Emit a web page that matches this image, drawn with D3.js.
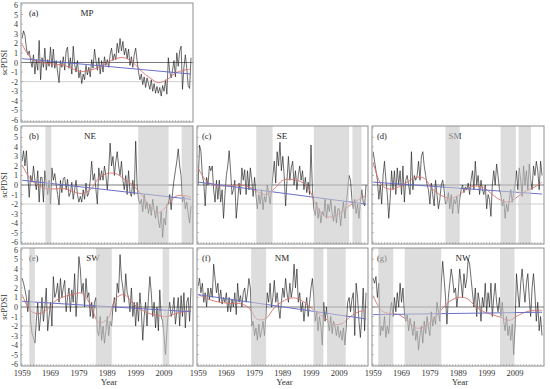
<!DOCTYPE html>
<html>
<head>
<meta charset="utf-8">
<script src="https://cdn.jsdelivr.net/npm/d3@7"></script>
<style>
body { margin: 0; background: #fff; }
svg { display: block; font-family: "Liberation Serif", "Times New Roman", serif; }
</style>
</head>
<body>
<svg id="chart" width="550" height="389"></svg>
<script>
// half-yearly scPDSI readings, 1959.0 .. 2018.5
var seriesMP = [2.5, 3.3, 2.8, 1.5, 0.8, 1.2, 0.2, -0.5, 0.8, -1.2,
	0.3, -0.8, 2.3, -1.8, 0.5, -0.5, 1.5, -0.8, 0.3, -0.4,
	1.6, -0.5, 1.4, -0.6, 0.2, -1.0, -2.1, 0.2, -0.5, 0.6,
	-0.8, 1.2, 1.6, -0.6, 0.5, -1.2, 1.7, -0.2, -1.0, 0.2,
	-1.6, -0.8, -2.2, -1.2, -1.8, -0.3, -1.3, -0.5, -1.5, 0.3,
	-0.6, 1.4, 0.2, -0.8, 0.5, -1.2, 0.2, -1.0, 0.6, -0.3,
	0.3, -0.5, 0.8, 1.5, 0.2, 0.9, 0.3, 2.0, 1.0, 2.5,
	1.2, 2.2, 0.8, 1.5, 0.4, 1.4, -0.3, 0.6, -0.5, 0.8,
	1.5, 0.2, -1.0, -1.8, -1.2, -2.3, -1.5, -2.6, -1.6, -2.2,
	-2.8, -1.8, -3.0, -2.2, -3.2, -2.5, -3.2, -2.6, -3.5, -2.4,
	-3.0, -1.8, -3.3, 0.5, -1.0, -1.6, -0.8, 0.2, -1.5, 1.0,
	-0.4, 1.2, 1.7, -2.8, -0.5, 0.8, -0.6, -2.4, -2.7, 0.5];
var seriesNE = [2.5, 3.6, 2.0, 3.6, 1.0, -1.3, 1.0, 0.3, 2.0, 0.5,
	-0.5, 1.5, -1.8, 0.8, 0.8, -1.8, 1.5, 0.2, -1.0, 0.5,
	-2.0, 1.8, 0.5, 1.2, 0.0, -1.0, -2.1, 0.5, -0.8, 0.7,
	0.8, -0.5, 0.6, -1.2, -0.8, 0.3, -1.5, -0.5, 0.5, -1.0,
	-1.8, -1.2, -1.8, -0.5, -1.5, 0.2, -1.2, -0.8, 0.5, 2.5,
	0.5, 1.2, -0.5, -2.0, 1.8, 0.5, 1.5, 0.5, 2.0, 1.0,
	-0.5, 1.5, 4.4, 2.0, 3.0, 1.0, 2.5, 3.5, 2.0, 1.0,
	2.5, 0.5, -0.5, 1.0, -1.0, 1.5, -0.8, -1.2, 0.5, -1.0,
	4.6, 0.0, -1.5, -2.0, -1.5, -2.8, -1.0, -2.5, -1.8, -3.0,
	-2.0, -3.2, -1.5, -2.6, -3.5, -2.2, -3.8, -4.5, -2.8, -5.5,
	-3.5, -4.2, -2.0, -2.0, -1.0, -2.6, -0.8, 0.5, 1.5, 2.5,
	3.8, 2.0, 1.0, -1.8, -1.2, -2.5, -1.8, -3.0, -4.0, -2.2];
var seriesSE = [0.0, 4.2, 3.5, 1.0, 0.2, -2.2, 0.8, 0.0, 2.0, 1.5,
	2.0, -0.5, -1.8, 0.5, -1.5, 0.5, -1.8, -0.5, -3.5, -1.0,
	1.0, 2.0, 3.6, 1.5, -1.0, -0.5, 0.5, -3.5, -1.8, 0.2,
	-1.0, 1.8, 0.5, 1.6, -1.0, 1.5, -0.5, 1.8, 0.5, -1.2,
	0.8, -1.0, -2.5, -1.0, -2.0, -0.5, -2.6, -1.2, -1.8, 0.0,
	-0.8, -2.0, -0.5, 1.0, 2.5, 0.2, 3.5, 2.0, 4.5, 1.5,
	3.0, 1.0, -2.2, 0.5, 3.0, 0.5, 1.8, 2.5, 0.0, 1.5,
	-0.5, 1.0, 2.0, 0.5, 1.5, -0.5, 0.8, -0.8, 0.3, -1.0,
	4.2, -0.5, -2.5, -3.2, -1.8, -3.5, -2.5, -4.0, -2.8, -3.2,
	-1.5, -3.5, -2.0, -2.8, -1.5, -3.0, -3.8, -2.2, -4.0, -2.5,
	-2.5, -4.3, -2.8, -1.8, -3.5, -2.0, -0.5, 1.0, 0.5, -1.5,
	-2.5, -1.5, -3.0, -2.0, -3.5, -1.8, -0.5, -1.8, -2.2, 0.0];
var seriesSM = [3.5, 2.5, 1.5, 0.5, -1.5, 0.0, -2.0, 1.0, 2.5, 0.5,
	-1.0, -3.5, -1.5, 1.5, -0.5, 1.5, -1.0, 1.8, 0.0, 1.5,
	-1.0, 2.0, -1.8, 0.5, 1.0, 0.0, -1.0, 3.5, -0.5, 1.0,
	0.5, 1.0, 2.5, 0.5, 3.0, 3.5, 2.0, 1.0, 0.0, -0.5,
	-2.0, 0.2, -1.0, -2.2, 0.5, -1.0, -2.5, -1.5, 0.0, 0.5,
	-0.5, -2.0, -1.8, -0.8, -2.5, -1.0, -3.0, -1.5, -2.0, -1.2,
	-3.0, -1.5, -0.5, 0.0, -0.8, -0.2, -0.5, 0.2, -1.0, 0.5,
	1.5, -0.5, 2.5, 0.0, 1.0, -1.0, 0.5, -0.5, -1.0, 0.0,
	-2.5, -1.0, -1.5, -3.3, 0.0, 1.5, 0.0, 2.2, 1.0, -0.5,
	-1.0, -2.2, -1.5, -3.5, -2.0, -2.8, -1.5, -0.5, -1.8, -0.8,
	0.0, 1.5, -0.5, 1.8, 0.5, -1.2, 2.0, 0.0, 1.5, -0.5,
	2.2, 0.5, -0.5, 2.0, 1.0, 2.5, 1.5, -0.5, 2.5, 1.0];
var seriesSW = [3.0, 2.5, 1.8, 1.0, -0.5, 1.8, -1.5, -2.8, -3.2, -3.8,
	-1.5, 0.5, -2.5, -1.0, 1.0, -1.5, 0.0, 2.0, -2.5, -1.0,
	0.5, -2.0, 3.2, 1.0, 1.5, 2.5, 0.5, 3.0, 1.0, 2.0,
	2.8, -0.5, 1.0, 2.0, -0.5, 1.8, 0.5, 3.5, -1.0, 1.5,
	5.3, 4.0, 1.5, 2.5, 0.0, 3.0, 1.0, 1.5, -1.0, 0.5,
	-1.2, 0.5, 1.0, -2.5, -3.0, -1.0, -3.5, -2.0, -3.8, -2.5,
	-1.0, -3.0, -1.5, -2.0, 0.0, 1.0, -0.5, 2.5, 1.5, 5.5,
	3.0, 2.0, 0.5, 3.5, 1.5, 1.0, -0.5, 2.0, -1.0, 0.5,
	-2.0, 0.5, -1.5, 1.5, -0.5, -3.5, -1.0, 0.5, -2.0, 1.0,
	3.2, 1.5, -1.0, 0.5, -2.2, 0.0, -2.5, 1.8, -1.0, -1.5,
	-3.0, -5.0, -2.5, -0.5, 0.5, -1.0, -0.5, 1.0, -1.8, -0.5,
	1.0, -2.0, 1.2, -1.0, 1.5, -2.2, 0.5, 1.0, -1.5, 2.0];
var seriesNM = [2.2, 3.0, 1.5, 2.5, 0.5, 1.5, 0.0, 2.0, 0.8, 2.0,
	1.0, 4.5, 3.0, 1.5, 2.5, 0.5, 1.8, 0.3, 1.0, 0.5,
	1.5, -0.5, 1.0, -0.5, 0.8, 0.0, 1.5, -0.8, 2.5, 0.5,
	1.2, 0.0, 1.5, 2.0, 0.5, 1.5, 3.0, 2.0, -2.0, -1.5,
	-3.0, -2.2, -3.5, -1.8, -3.2, -2.5, -1.5, -3.0, -1.0, 1.5,
	0.5, 2.5, 0.0, 1.0, 2.8, 0.5, 1.5, 0.0, -1.2, 0.5,
	2.0, 1.0, 3.0, 1.5, 0.5, 2.5, 1.0, 2.0, 4.5, 2.0,
	4.0, 0.5, 1.5, -0.5, 0.5, -1.5, 0.0, 1.0, -1.0, 0.5,
	2.0, 3.0, 1.0, -1.5, -0.5, -2.5, -1.0, -2.0, -4.0, 0.5,
	-1.5, 0.0, -1.5, -2.5, -1.0, -2.8, -1.5, -2.0, -3.0, -2.0,
	-3.2, -2.5, -3.5, -2.2, -4.0, -2.0, 0.5, 1.0, -0.5, 0.8,
	1.5, -3.0, 2.5, 1.0, -1.5, -3.2, -1.0, 2.0, -2.5, 1.5];
var seriesNW = [3.0, 2.5, 3.2, 1.0, 2.5, -3.0, -2.0, -2.5, -1.0, -3.2,
	-2.0, -2.8, -0.5, 0.5, -1.0, 1.0, -0.5, 1.5, 0.0, 2.5,
	0.5, 2.0, -0.5, -1.5, -0.8, -2.5, -1.2, -2.0, -3.0, -1.5,
	-3.5, -2.5, -4.5, -3.0, -2.0, -3.8, -1.5, -2.8, -1.0, -2.2,
	-3.0, -0.5, -2.0, -1.0, -1.8, 0.5, -0.5, -1.5, 2.5, 4.8,
	3.0, 1.0, -1.8, 1.0, 2.5, 4.0, 3.0, 1.5, 2.0, 0.0,
	1.5, 4.0, 2.5, 1.0, 3.5, 2.0, 3.0, 5.0, 4.5, 3.0,
	1.5, 0.0, 2.0, -1.0, 1.5, 0.5, -1.5, 1.0, 0.0, 2.5,
	-0.5, 1.5, 0.0, 2.5, -1.0, 1.0, 2.5, 0.5, -0.5, 1.0,
	-1.0, 0.5, -1.5, -2.5, -1.0, -3.0, -2.0, -3.5, -1.8, -5.0,
	-2.0, 3.5, 1.5, 0.0, 2.5, 4.0, 2.0, 0.5, 2.5, 3.5,
	1.0, -1.0, 2.0, 3.5, 1.5, -1.5, 0.5, -2.5, -1.0, -3.0];

// smoothed curves, read every 3 years
var smoothYears = [1959, 1962, 1965, 1968, 1971, 1974, 1977, 1980, 1983, 1986, 1989,
	1992, 1995, 1998, 2001, 2004, 2007, 2010, 2013, 2016, 2018.5];
var smoothMP = [1.9, 0.5, 0.1, -0.1, -0.2, -0.3, -0.7, -0.95, -0.8, -0.5, 0.0,
	0.4, 0.5, 0.0, -0.9, -1.6, -2.1, -1.8, -1.1, -0.8, -0.7];
var smoothNE = [2.1, 0.6, -0.1, -0.4, -0.4, -0.4, -0.7, -0.9, -0.5, 0.7, 1.2,
	1.2, 0.6, 0.0, -1.0, -2.2, -2.9, -2.2, -1.2, -1.1, -1.3];
var smoothSE = [1.8, 0.4, 0.0, -0.1, -0.1, 0.0, -0.2, -0.7, -1.0, -0.4, 0.5,
	0.6, 0.4, -0.3, -2.2, -3.3, -3.3, -2.8, -2.1, -1.5, -1.1];
var smoothSM = [2.4, 0.0, -0.45, -0.2, 0.3, 0.8, 0.7, -0.45, -1.1, -1.4, -1.1,
	-0.4, -0.1, -0.3, -1.0, -1.6, -1.8, -1.2, -0.6, -0.2, 0.3];
var smoothSW = [1.3, -0.4, -0.7, -0.2, 0.7, 1.1, 1.35, 1.45, 0.3, -1.6, -1.3,
	0.9, 1.3, 0.4, -0.3, -0.7, -0.9, -1.0, -0.7, -0.5, -0.35];
var smoothNM = [1.3, 0.9, 0.6, 0.45, 0.35, 0.35, -0.1, -1.3, -1.2, -0.1, 0.6,
	0.95, 0.8, 0.15, -0.55, -1.2, -1.8, -1.75, -1.0, -0.5, -0.35];
var smoothNW = [1.2, -0.4, -0.7, -0.8, -1.4, -2.2, -2.1, -1.4, -0.3, 0.6, 1.0,
	0.9, 0.1, -0.5, -0.8, -1.1, -1.4, -0.9, -0.5, -0.35, -0.35];

// linear trend, value at start and end
var trendMP = [0.4, -1.2];
var trendNE = [0.5, -1.5];
var trendSE = [0.3, -2.0];
var trendSM = [0.3, -0.95];
var trendSW = [0.6, -0.5];
var trendNM = [1.3, -1.25];
var trendNW = [-0.8, -0.55];

// shaded drought periods (years)
var bandsMP = [];
var bandsNE = [[1967.2, 1969.3], [1999.9, 2010.6], [2015.2, 2019.2]];
var bandsSE = [[1979.6, 1985.4], [2000.0, 2012.5], [2013.7, 2016.9]];
var bandsSM = [[1984.5, 1989.5], [2003.9, 2009.3], [2010.2, 2014.6]];
var bandsSW = [[1961.5, 1963.5], [1985.0, 1990.6], [2008.5, 2010.8]];
var bandsNM = [[1977.8, 1983.1], [1999.9, 2003.4], [2004.7, 2011.3]];
var bandsNW = [[1960.8, 1966.1], [1970.1, 1983.0], [2003.7, 2008.8]];

var yTicks = d3.range(-6, 7);
var xTickYears = [1959, 1969, 1979, 1989, 1999, 2009];

var svg = d3.select('#chart');
var cols = [[21, 193], [197, 368], [372, 544]];
var rows = [[3, 122], [126, 244], [248, 366]];

var panels = [
	{ name: 'MP', tag: '(a)', row: 0, col: 0, nameX: 87, s: seriesMP, sm: smoothMP, tr: trendMP, bands: bandsMP },
	{ name: 'NE', tag: '(b)', row: 1, col: 0, nameX: 90, s: seriesNE, sm: smoothNE, tr: trendNE, bands: bandsNE },
	{ name: 'SE', tag: '(c)', row: 1, col: 1, nameX: 282, s: seriesSE, sm: smoothSE, tr: trendSE, bands: bandsSE },
	{ name: 'SM', tag: '(d)', row: 1, col: 2, nameX: 455, s: seriesSM, sm: smoothSM, tr: trendSM, bands: bandsSM },
	{ name: 'SW', tag: '(e)', row: 2, col: 0, nameX: 93, s: seriesSW, sm: smoothSW, tr: trendSW, bands: bandsSW },
	{ name: 'NM', tag: '(f)', row: 2, col: 1, nameX: 282, s: seriesNM, sm: smoothNM, tr: trendNM, bands: bandsNM },
	{ name: 'NW', tag: '(g)', row: 2, col: 2, nameX: 463, s: seriesNW, sm: smoothNW, tr: trendNW, bands: bandsNW }
];

panels.forEach(function(p) {
	var cx = cols[p.col], ry = rows[p.row];
	var x = d3.scaleLinear().domain([1958.6, 2019.2]).range(cx);
	var y = d3.scaleLinear().domain([-6.2, 6.2]).range([ry[1], ry[0]]);
	var g = svg.append('g');

	// reference lines
	g.append('line').attr('x1', cx[0]).attr('x2', cx[1])
		.attr('y1', y(0)).attr('y2', y(0))
		.attr('stroke', '#6b6b6b').attr('stroke-width', 0.9);
	g.append('line').attr('x1', cx[0]).attr('x2', cx[1])
		.attr('y1', y(-2)).attr('y2', y(-2))
		.attr('stroke', '#c4c4c4').attr('stroke-width', 0.8);

	var pts = p.s.map(function(v, i) { return [1959 + i * 0.5, v]; });
	g.append('path')
		.datum(pts)
		.attr('fill', 'none')
		.attr('stroke', '#1e1e1e')
		.attr('stroke-width', 0.65)
		.attr('d', d3.line().x(function(d) { return x(d[0]); }).y(function(d) { return y(d[1]); }));

	var smPts = smoothYears.map(function(yr, i) { return [yr, p.sm[i]]; });
	g.append('path')
		.datum(smPts)
		.attr('fill', 'none')
		.attr('stroke', '#d9706c')
		.attr('stroke-width', 0.9)
		.attr('d', d3.line().curve(d3.curveCatmullRom)
			.x(function(d) { return x(d[0]); }).y(function(d) { return y(d[1]); }));

	g.append('line')
		.attr('x1', x(1959)).attr('x2', x(2018.5))
		.attr('y1', y(p.tr[0])).attr('y2', y(p.tr[1]))
		.attr('stroke', '#6a70c6').attr('stroke-width', 1);

	g.append('text').attr('x', cx[0] + (p.col == 0 ? 8 : 5)).attr('y', ry[0] + 13)
		.attr('font-size', 8.5).attr('fill', '#222').text(p.tag);
	g.append('text').attr('x', p.nameX).attr('y', ry[0] + 13)
		.attr('text-anchor', 'middle')
		.attr('font-size', 9).attr('fill', '#222').text(p.name);

	// drought bands drawn over the lines
	g.selectAll('rect.band')
		.data(p.bands)
		.enter().append('rect')
		.attr('class', 'band')
		.attr('x', function(d) { return x(d[0]); })
		.attr('width', function(d) { return Math.min(x(d[1]), cx[1]) - x(d[0]); })
		.attr('y', ry[0])
		.attr('height', ry[1] - ry[0])
		.attr('fill', '#c6c6c6')
		.attr('fill-opacity', 0.6);

	// small inward ticks
	g.selectAll('line.yt')
		.data(yTicks)
		.enter().append('line')
		.attr('x1', cx[0]).attr('x2', cx[0] + 2)
		.attr('y1', function(d) { return y(d); }).attr('y2', function(d) { return y(d); })
		.attr('stroke', '#999').attr('stroke-width', 0.6);
	g.selectAll('line.xt')
		.data(d3.range(1959, 2019))
		.enter().append('line')
		.attr('x1', function(d) { return x(d); }).attr('x2', function(d) { return x(d); })
		.attr('y1', ry[1]).attr('y2', ry[1] - 2)
		.attr('stroke', '#999').attr('stroke-width', 0.6);

	g.append('rect')
		.attr('x', cx[0]).attr('y', ry[0])
		.attr('width', cx[1] - cx[0]).attr('height', ry[1] - ry[0])
		.attr('fill', 'none').attr('stroke', '#8f8f8f').attr('stroke-width', 1);

	if (p.col == 0) {
		g.selectAll('text.yl')
			.data(yTicks)
			.enter().append('text')
			.attr('x', cx[0] - 3)
			.attr('y', function(d) { return y(d) + 3; })
			.attr('text-anchor', 'end')
			.attr('font-size', 8).attr('fill', '#333')
			.text(function(d) { return d; });
		var my = (ry[0] + ry[1]) / 2;
		g.append('text')
			.attr('transform', 'translate(7,' + my + ') rotate(-90)')
			.attr('text-anchor', 'middle')
			.attr('font-size', 8.5).attr('fill', '#333')
			.text('scPDSI');
	}
	if (p.row == 2) {
		g.selectAll('text.xl')
			.data(xTickYears)
			.enter().append('text')
			.attr('x', function(d) { return x(d); })
			.attr('y', ry[1] + 10)
			.attr('text-anchor', 'middle')
			.attr('font-size', 8.5).attr('fill', '#333')
			.text(function(d) { return d; });
		g.append('text')
			.attr('x', (cx[0] + cx[1]) / 2 + 2)
			.attr('y', ry[1] + 19)
			.attr('text-anchor', 'middle')
			.attr('font-size', 9).attr('fill', '#333')
			.text('Year');
	}
});
</script>
</body>
</html>
